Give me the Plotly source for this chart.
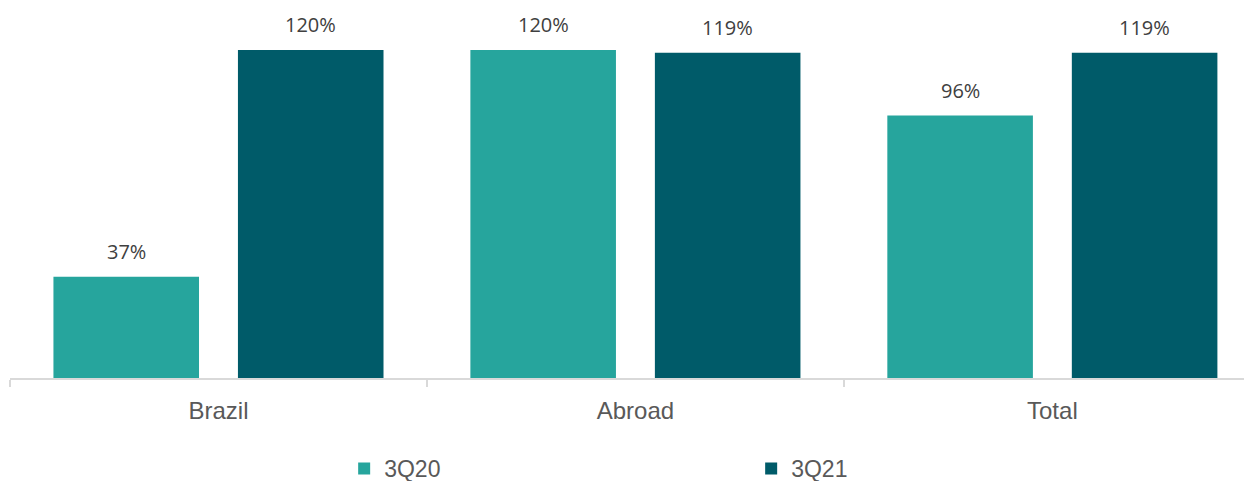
import plotly.graph_objects as go

categories = ["Brazil", "Abroad", "Total"]
series_names = ["3Q20", "3Q21"]
values_3q20 = [37, 120, 96]
values_3q21 = [120, 119, 119]
colors = ["#26A59D", "#005B69"]
label_shift = [-92.3, 92.3]

fig = go.Figure()
for name, vals, col, sh in zip(series_names, [values_3q20, values_3q21], colors, label_shift):
    fig.add_trace(go.Bar(
        x=categories, y=vals, name=name,
        marker=dict(color=col, line=dict(width=0)),
    ))
    for c, v in zip(categories, vals):
        fig.add_annotation(
            x=c, y=v, xref="x", yref="y", text=f"{v}%", showarrow=False,
            xshift=sh, yshift=25, yanchor="middle",
            font=dict(family="Open Sans", size=20, color="#404040"),
        )

fig.update_layout(
    width=1252, height=481,
    margin=dict(l=2, r=0, t=2, b=111, autoexpand=False),
    plot_bgcolor="white", paper_bgcolor="white",
    barmode="group", bargap=0.115, bargroupgap=0.211,
    showlegend=True,
    legend=dict(orientation="h", x=0.2685, y=0.0873, xref="container", yref="container",
                xanchor="left", yanchor="top",
                entrywidth=362, entrywidthmode="pixels",
                font=dict(family="Liberation Sans, Arial", size=23, color="#595959"),
                traceorder="normal"),
)
fig.update_xaxes(
    range=[-0.5, 2.498], showline=True, linecolor="#D9D9D9", linewidth=1.5,
    ticks="outside", tickson="boundaries", ticklen=7, tickcolor="#D9D9D9", tickwidth=1.5,
    tickfont=dict(family="Liberation Sans, Arial", size=24, color="#595959"),
    ticklabelstandoff=10, showgrid=False,
)
fig.update_yaxes(range=[0, 134.6], visible=False, showgrid=False)

fig.write_html("out.html")
